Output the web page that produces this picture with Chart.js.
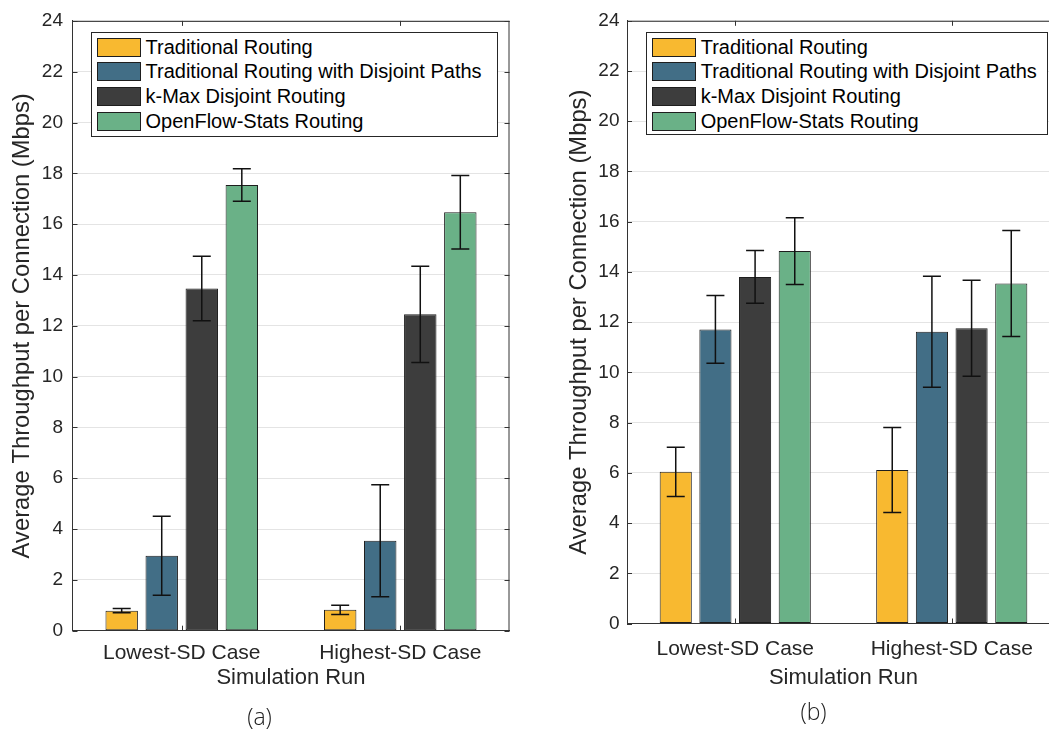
<!DOCTYPE html>
<html>
<head>
<meta charset="utf-8">
<script src="https://cdn.jsdelivr.net/npm/chart.js@4.4.1/dist/chart.umd.min.js"></script>
<style>
  html, body { margin: 0; padding: 0; overflow: hidden; background: #fff; }
  #wrap { position: relative; width: 1049px; height: 730px; overflow: hidden; }
  canvas { position: absolute; top: 0; }
  .legend {
    position: absolute; box-sizing: border-box; background: #fff;
    border: 1px solid #262626; padding: 4.4px 0 0 5px;
    font-family: 'Liberation Sans', Arial, sans-serif; font-size: 20px; color: #000;
  }
  .row { display: flex; align-items: center; height: 19px; margin-bottom: 5.7px; white-space: nowrap; }
  .sw { width: 44px; height: 19px; box-sizing: border-box; border: 1px solid #1e1e1e; margin-right: 5px; flex: none; }
  .cap {
    position: absolute; font-family: 'Open Sans', 'Noto Sans', sans-serif; font-weight: 300;
    font-size: 23px; color: #222; transform: translate(-50%, -50%); line-height: 1;
  }
</style>
</head>
<body>
<div id="wrap">
  <canvas id="chartA" width="530" height="700" style="left:0"></canvas>
  <canvas id="chartB" width="551" height="700" style="left:530px"></canvas>
  <div class="legend" id="legA" style="left:90.5px;top:32.3px;width:407.5px;height:104.5px"></div>
  <div class="legend" id="legB" style="left:645.7px;top:32.3px;width:402.8px;height:103px"></div>
  <div class="cap" style="left:259.5px;top:716px">(a)</div>
  <div class="cap" style="left:813.5px;top:711px">(b)</div>
</div>
<script>
const categories = ['Lowest-SD Case', 'Highest-SD Case'];
const seriesNames = ['Traditional Routing', 'Traditional Routing with Disjoint Paths', 'k-Max Disjoint Routing', 'OpenFlow-Stats Routing'];
const seriesColors = ['#f8b930', '#426e86', '#3d3d3d', '#6ab187'];
const yTicks = [0, 2, 4, 6, 8, 10, 12, 14, 16, 18, 20, 22, 24];

// (a) mean throughput and error (+/-)
const tradA = [0.79, 0.82];
const disjA = [2.95, 3.54];
const kmaxA = [13.47, 12.45];
const ofsA = [17.54, 16.47];
const tradErrA = [0.085, 0.18];
const disjErrA = [1.55, 2.2];
const kmaxErrA = [1.27, 1.89];
const ofsErrA = [0.64, 1.45];

// (b)
const tradB = [6.04, 6.11];
const disjB = [11.71, 11.62];
const kmaxB = [13.8, 11.76];
const ofsB = [14.83, 13.54];
const tradErrB = [0.98, 1.69];
const disjErrB = [1.35, 2.21];
const kmaxErrB = [1.05, 1.91];
const ofsErrB = [1.33, 2.11];

Chart.defaults.font.family = "'Liberation Sans', Arial, sans-serif";
Chart.defaults.color = '#262626';

const errorBars = {
  id: 'errorBars',
  afterDatasetsDraw(chart) {
    const ctx = chart.ctx, y = chart.scales.y;
    ctx.save();
    ctx.strokeStyle = '#111';
    ctx.lineWidth = 1.5;
    chart.data.datasets.forEach((ds, i) => {
      chart.getDatasetMeta(i).data.forEach((bar, j) => {
        const v = ds.data[j], e = ds.err[j];
        const top = y.getPixelForValue(v + e), bot = y.getPixelForValue(v - e);
        const x = bar.x, w = 9;
        ctx.beginPath();
        ctx.moveTo(x, top); ctx.lineTo(x, bot);
        ctx.moveTo(x - w, top); ctx.lineTo(x + w, top);
        ctx.moveTo(x - w, bot); ctx.lineTo(x + w, bot);
        ctx.stroke();
      });
    });
    ctx.restore();
  }
};

const boxAxes = {
  id: 'boxAxes',
  afterDraw(chart) {
    const {ctx, chartArea: a, scales} = chart;
    ctx.save();
    ctx.strokeStyle = '#333';
    ctx.lineWidth = 1;
    ctx.beginPath();
    ctx.moveTo(a.left, a.top + 0.5); ctx.lineTo(a.right, a.top + 0.5);
    ctx.moveTo(a.right - 0.5, a.top); ctx.lineTo(a.right - 0.5, a.bottom);
    scales.y.ticks.forEach((t, i) => {
      const py = Math.round(scales.y.getPixelForTick(i)) + 0.5;
      ctx.moveTo(a.left, py); ctx.lineTo(a.left + 5, py);
      ctx.moveTo(a.right, py); ctx.lineTo(a.right - 5, py);
    });
    scales.x.ticks.forEach((t, i) => {
      const px = Math.round(scales.x.getPixelForTick(i)) + 0.5;
      ctx.moveTo(px, a.bottom); ctx.lineTo(px, a.bottom - 5);
      ctx.moveTo(px, a.top); ctx.lineTo(px, a.top + 5);
    });
    ctx.stroke();
    ctx.restore();
  }
};

function makeChart(id, series, errs, geo) {
  new Chart(document.getElementById(id), {
    type: 'bar',
    data: {
      labels: categories,
      datasets: series.map((d, i) => ({
        label: seriesNames[i],
        data: d,
        err: errs[i],
        backgroundColor: seriesColors[i],
        borderColor: '#1e1e1e',
        borderWidth: 1,
        borderSkipped: false,
        barPercentage: 0.81,
        categoryPercentage: 0.733
      }))
    },
    options: {
      responsive: false,
      animation: false,
      devicePixelRatio: 1,
      layout: { padding: { left: 0, top: 20.8, right: geo.right, bottom: 0 } },
      plugins: { legend: { display: false }, tooltip: { enabled: false } },
      scales: {
        x: {
          offset: true,
          grid: { display: false, drawTicks: false, tickLength: 0 },
          border: { display: true, color: '#333', width: 1 },
          ticks: { font: { size: 21 }, padding: geo.xPad, color: '#262626' },
          title: { display: true, text: 'Simulation Run', font: { size: 22, lineHeight: 1 }, padding: { top: 0, bottom: 11.3 }, color: '#262626' },
          afterFit: s => { s.height = geo.xH; }
        },
        y: {
          min: 0, max: 24,
          afterBuildTicks: s => { s.ticks = yTicks.map(v => ({ value: v })); },
          grid: { color: '#e4e4e4', drawTicks: false, tickLength: 0 },
          border: { display: true, color: '#333', width: 1 },
          ticks: { font: { size: 19 }, padding: geo.yPad, color: '#262626' },
          title: { display: true, text: 'Average Throughput per Connection (Mbps)', font: { size: 23.8, lineHeight: 1 }, padding: { top: geo.tPad, bottom: 0 }, color: '#262626' },
          afterFit: s => { s.width = geo.yW; }
        }
      }
    },
    plugins: [errorBars, boxAxes]
  });
}

function makeLegend(id) {
  const box = document.getElementById(id);
  seriesNames.forEach((name, i) => {
    const row = document.createElement('div');
    row.className = 'row';
    const sw = document.createElement('span');
    sw.className = 'sw';
    sw.style.background = seriesColors[i];
    row.appendChild(sw);
    row.appendChild(document.createTextNode(name));
    box.appendChild(row);
  });
}

makeChart('chartA', [tradA, disjA, kmaxA, ofsA], [tradErrA, disjErrA, kmaxErrA, ofsErrA],
  { right: 20.5, yW: 72.5, xH: 69.3, xPad: 10, yPad: 9.5, tPad: 11 });
makeChart('chartB', [tradB, disjB, kmaxB, ofsB], [tradErrB, disjErrB, kmaxErrB, ofsErrB],
  { right: 21, yW: 97, xH: 76.5, xPad: 13, yPad: 7.5, tPad: 38 });
makeLegend('legA');
makeLegend('legB');
</script>
</body>
</html>
